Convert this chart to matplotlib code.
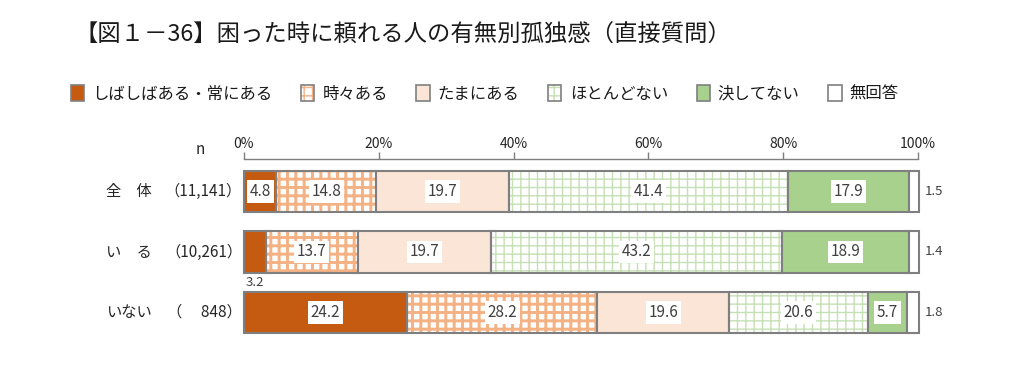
"""困った時に頼れる人の有無別孤独感 — 100% stacked bars."""
import matplotlib
matplotlib.use('Agg')
import matplotlib.pyplot as plt
from matplotlib.patches import Patch
import numpy as np

plt.rcParams['font.family'] = ['Noto Sans CJK JP', 'DejaVu Sans']

categories = ['しばしばある・常にある', '時々ある', 'たまにある', 'ほとんどない', '決してない', '無回答']
groups = ['全\u3000体', 'い\u3000る', 'いない']
group_n = ['（11,141）', '（10,261）', '（\u3000 848）']
v_all = [4.8, 14.8, 19.7, 41.4, 17.9, 1.5]
v_yes = [3.2, 13.7, 19.7, 43.2, 18.9, 1.4]
v_no = [24.2, 28.2, 19.6, 20.6, 5.7, 1.8]
xticks = [0, 20, 40, 60, 80, 100]
title = '【図１－36】困った時に頼れる人の有無別孤独感（直接質問）'

# fill, hatch, hatch colour
styles = [
    ('#C55A11', None, None),
    ('white', '++', '#F4B183'),
    ('#FBE5D6', None, None),
    ('white', '++', '#C5E0B4'),
    ('#A9D18E', None, None),
    ('white', None, None),
]
hatch_lw = [None, 2.1, None, 1.0, None, None]
EDGE = '#7F7F7F'
TXT = '#404040'


def main():
    data = np.array([v_all, v_yes, v_no])
    fig = plt.figure(figsize=(10.24, 3.77), dpi=100)
    ax = fig.add_axes([244 / 1024, 1 - 342.75 / 377, 674 / 1024, 183.75 / 377])
    y = np.arange(len(groups))
    h = 0.68
    left = np.zeros(len(groups))
    for k in range(len(categories)):
        fc, hatch, hc = styles[k]
        vals = data[:, k]
        if hatch:
            with plt.rc_context({'hatch.linewidth': hatch_lw[k]}):
                ax.barh(y, vals, h, left=left, color='white', edgecolor=hc,
                        hatch=hatch, linewidth=0, zorder=2, clip_on=False)
            ax.barh(y, vals, h, left=left, fill=False, edgecolor=EDGE,
                    linewidth=1.5, zorder=3, clip_on=False)
        else:
            ax.barh(y, vals, h, left=left, color=fc, edgecolor=EDGE,
                    linewidth=1.5, zorder=3, clip_on=False)
        for i, v in enumerate(vals):
            cx = left[i] + v / 2
            if k == len(categories) - 1:
                ax.text(left[i] + v + 0.9, y[i], f'{v:.1f}', ha='left', va='center',
                        fontsize=9.5, color=TXT)
            elif v < 4:
                ax.text(left[i] + 0.2, y[i] + h / 2 + 0.05, f'{v:.1f}', ha='left',
                        va='top', fontsize=9.5, color=TXT)
            else:
                ax.text(cx, y[i], f'{v:.1f}', ha='center', va='center', fontsize=11,
                        color=TXT, zorder=5,
                        bbox=dict(facecolor='white', edgecolor='none', pad=2))
        left += vals

    ax.set_xlim(0, 100)
    ax.set_ylim(2.5, -0.537)
    ax.xaxis.tick_top()
    ax.set_xticks(xticks)
    ax.set_xticklabels([f'{t}%' for t in xticks], fontsize=10, color='#262626')
    ax.tick_params(axis='x', direction='out', length=5, width=1, color=EDGE, pad=1)
    ax.set_yticks([])
    for s in ['bottom', 'left', 'right']:
        ax.spines[s].set_visible(False)
    ax.spines['top'].set_color(EDGE)
    ax.spines['top'].set_linewidth(1)

    for i in range(len(groups)):
        ypx = 1 - (191.5 + 60.5 * i) / 377
        fig.text(106 / 1024, ypx, groups[i], ha='left', va='center', fontsize=11, color='#262626')
        fig.text(242 / 1024, ypx, group_n[i], ha='right', va='center', fontsize=11, color='#262626')
    fig.text(200 / 1024, 1 - 150 / 377, 'n', ha='center', va='center', fontsize=11, color='#262626')

    handles = []
    for k, (fc, hatch, hc) in enumerate(styles):
        if hatch:
            handles.append((Patch(facecolor='white', edgecolor=hc, hatch=hatch, linewidth=0),
                            Patch(fill=False, edgecolor=EDGE, linewidth=1.2)))
        else:
            handles.append(Patch(facecolor=fc, edgecolor=EDGE, linewidth=1.2))
    fig.legend(handles, categories, loc='center left', bbox_to_anchor=(56 / 1024, 1 - 94 / 377),
               ncol=6, frameon=False, fontsize=11.8, handlelength=0.8, handleheight=1.1,
               handletextpad=0.5, columnspacing=1.75, labelcolor='#1a1a1a')

    fig.text(75 / 1024, 1 - 35 / 377, title, ha='left', va='center', fontsize=16.8, color='#1a1a1a')
    fig.savefig('out.png', dpi=100)


if __name__ == '__main__':
    main()
